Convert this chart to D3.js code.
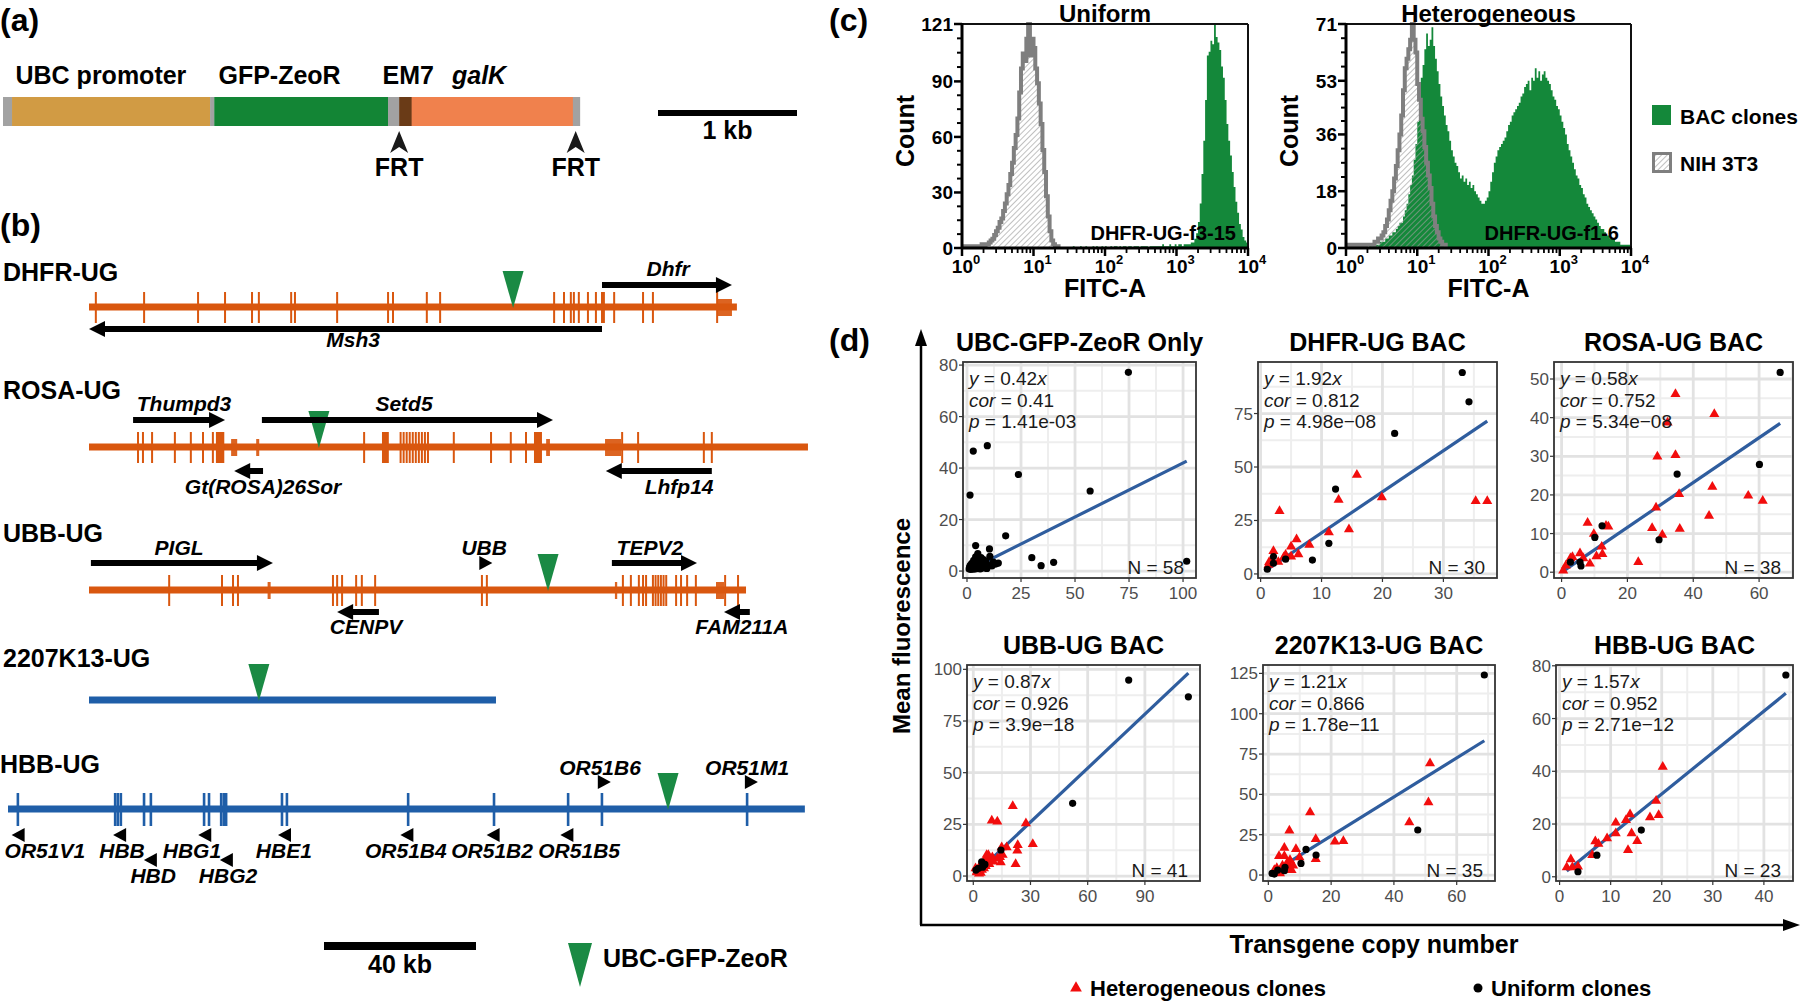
<!DOCTYPE html>
<html><head><meta charset="utf-8">
<script src="https://d3js.org/d3.v7.min.js"></script>
<style>html,body{margin:0;padding:0;background:#fff;}svg{display:block;}</style>
</head><body>
<script>
// ======================= DATA =======================
// (a) cassette (lengths in kb)
const cassetteParts=["FRT spacer","UBC promoter","spacer","GFP-ZeoR","FRT spacer","EM7","galK","FRT spacer"];
const cassetteKb=[0.065,1.425,0.03,1.25,0.08,0.09,1.16,0.05];
const cassetteLabels=["UBC promoter","GFP-ZeoR","EM7","galK"];
const cassetteLabelKb=[0.09,1.55,2.73,3.23];
const frtKb=[2.85,4.12];

// (b) BAC tracks (kb)
const trackNames=["DHFR-UG","ROSA-UG","UBB-UG","2207K13-UG","HBB-UG"];
const trackLengthKb=[170.5,189.2,172.9,107.1,209.7];
const trackInsertKb=[111.6,60.5,120.8,44.7,173.7];
const dhfrExons=[1.8,14.5,28.7,35.8,42.9,44.7,53.2,54.2,65.3,78.7,80,88.9,92.4,122.4,125,126.8,127.6,128.9,131.3,133.4,135,135.5,138.2,145.8,148.4,165.3];
const dhfrBlocks=[];
const dhfrUtr=[[165.3,169.2]];
const rosaExons=[12.9,14.2,16.6,22.6,26.8,30,32.6,72.4,82,82.8,83.6,84.4,85.2,86,86.8,87.6,88.4,89.2,96,105.8,111,115,140.3,144.5,161.8,163.9];
const rosaBlocks=[[33.4,35.6],[77.1,78.9],[117.1,119.2]];
const rosaUtr=[[37.4,39],[44,44.8],[120.3,121.3],[135.8,140]];
const ubbExons=[21.1,35,37.9,39.2,64.2,65.3,66.6,70.3,71.8,75.3,103.4,104.7,140.5,142.6,144.7,145.8,146.6,148.4,149.1,149.8,150.5,151.2,151.9,154.5,155.8,157.4,159.7,167.4,170.8];
const ubbBlocks=[];
const ubbUtr=[[47,47.8],[138.4,139],[165,167.1]];
const hbbExons=[2.6,28.2,28.9,29.7,35.8,37.6,51.6,52.9,56.1,56.8,57.4,72.1,73.4,105.3,127.9,147.4,156.3,194.5];
const geneNames=["Dhfr","Msh3","Thumpd3","Setd5","Gt(ROSA)26Sor","Lhfp14","PIGL","TEPV2","CENPV","FAM211A"];
const geneTrack=[0,0,1,1,1,1,2,2,2,2];
const geneFromKb=[135,135,11.6,45.5,45.8,163.9,0.5,137.6,76.3,173.9];
const geneToKb=[169.2,0,35.8,122.1,38.2,136,48.4,160,65.3,167.1];
const geneLabelKb=[152.4,69.5,25,82.9,45.8,155.3,23.7,147.6,72.9,171.8];
const smallGenes=["UBB","OR51V1","HBB","HBD","HBG1","HBG2","HBE1","OR51B4","OR51B2","OR51B5","OR51B6","OR51M1"];
const smallGeneTrack=[2,4,4,4,4,4,4,4,4,4,4,4];
const smallGeneKb=[104.3,2.8,29.5,37.6,51.9,57.6,72.9,105.1,127.8,147.2,156.8,195.5];
const smallGeneStrand=[1,-1,-1,-1,-1,-1,-1,-1,-1,-1,1,1];
const smallGeneLabelKb=[104,9.7,30,38.2,48.4,57.9,72.6,104.7,127.4,150.3,155.8,194.5];

// (c) flow histograms: counts per bin of log10(FITC-A), bin width 0.025
const histStep=0.025;
const uniformGrayStart=0;
const uniformGray=[1,0,1,1,0,1,1,0,1,1, 1,2,1,2,2,3,4,5,7,9, 11,14,16,20,24,29,34,40,46,54, 61,70,84,97,105,101,113,121,104,113, 108,97,89,78,67,53,41,28,17,9, 4,2,1,1,0];
const uniformGreenStart=1.5;
const uniformGreen=[0,0,1,0,0,0,1,0,0,1, 0,0,0,1,0,1,0,0,1,0, 1,0,0,1,0,1,1,0,1,0, 1,1,0,1,1,0,1,1,1,0, 1,1,1,1,0,1,1,1,1,1, 1,1,2,1,1,1,2,1,1,2, 1,2,2,1,2,2,2,
 2,3,3,5,8,14,24,40,58,80,104,106,112,110,121,114,111,107,98,92,80,67,58,50,41,33,25,19,13,10,6,4,3,2];
const hetGrayStart=0;
const hetGray=[0,1,0,0,1,0,1,0,0,1, 0,1,1,1,1,1,2,2,3,3, 4,5,7,9, 12,15,18,22,26,31,36,42,50,57, 60,63,66,71,66,62,52,47,41,37, 32,27,23,19,14,10,7,5,3,2, 1,1,0];
const hetGreenStart=0;
const hetGreen=[0,0,1,0,0,1,0,1,0,0, 1,1,0,1,1,1,
 1,1,1,2,2,2,3,3,4,4, 5,5,6,7,8,8,10,12,14,17, 20,23,28,33,
 40,48,54,58,63,68,64,66,70,64, 60,56,52,48,45,42,39,37,34,31,
 29,27,26,24,22,23,21,22,20,21, 19,20,18,17,16,15,14,14,15,16,
 18,21,24,27,29,31,32,33,34,35, 37,39,40,42,43,44,45,46,48,49,
 51,52,53,50,54,53,57,54,56,53, 55,56,54,53,52,50,48,47,45,44,
 42,40,38,36,33,31,29,27,25,23, 22,20,19,17,16,14,13,12,11,10,
 9,8,7,6,6,5,4,4,3,3, 3,2,2,2,1,1,1,1,1,1,0];
const uniformYTicks=[0,30,60,90,121];
const hetYTicks=[0,18,36,53,71];
const fitcDecades=[0,1,2,3,4];

// (d) scatter panels: [copy number, mean fluorescence]
const dTitles=["UBC-GFP-ZeoR Only","DHFR-UG BAC","ROSA-UG BAC","UBB-UG BAC","2207K13-UG BAC","HBB-UG BAC"];
const dSlopes=[0.42,1.92,0.58,0.87,1.21,1.57];
const dCor=["0.41","0.812","0.752","0.926","0.866","0.952"];
const dP=["1.41e-03","4.98e\u221208","5.34e\u221208","3.9e\u221218","1.78e\u221211","2.71e\u221212"];
const dN=[58,30,38,41,35,23];
const dXTicks=[[0,25,50,75,100],[0,10,20,30],[0,20,40,60],[0,30,60,90],[0,20,40,60],[0,10,20,30,40]];
const dYTicks=[[0,20,40,60,80],[0,25,50,75],[0,10,20,30,40,50],[0,25,50,75,100],[0,25,50,75,100,125],[0,20,40,60,80]];
const dXDomains=[[-1.85,106],[-0.43,38.8],[-2.3,70.3],[-3.3,118.9],[-1.7,72.2],[-0.7,45.7]];
const dYDomains=[[-2.7,81.2],[-1.9,99.1],[-1.5,54.4],[-2.4,102.1],[-3.7,130.2],[-1.6,80.3]];

const ubcUniform=[[74.7,77.2],[2.9,46.6],[9.4,48.7],[23.8,37.5],[1.4,29.5],[57,31.1],[17.9,13.7],[30,5.2],[34.3,2.1],[40.1,3.4],[101.7,3.8],[4,9.9],[10.4,8.6],[10.6,5.7],[14.5,3.1],[13.3,2.7],
[1.0,0.8],[1.2,1.5],[1.5,2.2],[1.8,0.6],[2.0,1.2],[2.2,3.0],[2.4,1.8],[2.6,0.9],[2.8,2.5],[3.0,1.4],
[3.1,4.2],[3.3,0.7],[3.5,2.0],[3.6,3.3],[3.8,1.1],[4.0,5.5],[4.1,2.7],[4.3,1.6],[4.5,0.9],[4.6,3.8],
[4.8,2.2],[5.0,6.8],[5.1,1.3],[5.3,4.6],[5.5,2.9],[5.7,1.8],[5.9,3.5],[6.1,0.8],[6.3,2.4],[6.5,5.2],
[6.8,1.5],[7.0,3.1],[7.3,2.0],[7.6,4.4],[7.9,1.2],[8.2,2.6],[8.5,1.9],[8.8,3.9],[9.2,1.0],[9.6,2.3],[11.5,2.0],[12.2,3.5]];
const ubcHet=[];
const dhfrUniform=[[33.1,94.2],[34.2,80.5],[22.0,65.7],[12.3,39.7],[11.2,14.3],[8.5,6.5],[4.1,6.9],[2.1,8.1],[2.1,5.0],[1.1,2.2]];
const dhfrHet=[[15.8,46.3],[3.1,29.4],[12.8,34.6],[19.9,35.8],[35.3,34.1],[37.2,34.1],[14.5,20.9],[11.2,19.5],[5.9,16.2],[5.0,12.8],[8.0,13.6],[2.1,10.7],[4.1,8.9],[6.2,9.2],[5.0,8.1],[1.4,5.5],[1.3,4.3],[1.9,6.5],[2.9,5.6],[3.8,7.8]];
const rosaUniform=[[66.4,51.7],[60.1,27.9],[35.1,25.4],[12.3,12.0],[10.1,9.0],[29.6,8.4],[2.7,2.6],[5.6,2.6],[5.9,1.6]];
const rosaHet=[[34.6,46.1],[46.4,40.9],[32.2,38.7],[29.1,29.9],[34.6,30.3],[45.8,22.1],[35.7,20.2],[56.7,19.8],[61.1,18.5],[28.7,16.7],[44.8,14.6],[7.9,12.8],[13.5,12.0],[14.2,11.8],[27.5,11.4],[35.9,11.2],[30.6,9.7],[9.8,9.9],[12.2,6.6],[12.4,4.7],[10.6,4.1],[8.6,2.2],[5.6,4.9],[6.6,3.6],[3.3,3.9],[2.7,3.6],[1.3,1.7],[0.5,0.4],[23.3,2.6]];
const ubbUniform=[[81.5,94.8],[112.8,86.7],[52.1,35.2],[14.5,12.6],[4.4,6.9],[2.6,3.7],[1.4,2.9],[6.1,5.6],[4.9,4.3]];
const ubbHet=[[20.7,33.9],[9.7,26.8],[12.6,26.3],[27.6,25.5],[31.2,15.5],[23.3,15.0],[23.1,12.3],[22.2,5.8],[17.5,13.9],[14.9,13.9],[15.4,10.2],[14.4,6.6],[12.6,8.5],[10.0,9.0],[7.9,10.2],[7.4,7.8],[8.4,5.8],[6.1,7.8],[5.3,5.8],[3.2,4.4],[2.1,2.5],[3.9,1.6],[2.8,2.9],[1.2,3.7],[5.6,3.7],[10.5,7.0],[14.0,9.2],[7.0,10.2],[3.0,1.2],[4.5,3.0],[6.5,4.8],[1.8,1.8]];
const k2207Uniform=[[68.8,124],[47.6,27.9],[12.0,15.9],[15.2,12.4],[10.4,7.2],[5.3,4.8],[5.1,2.7],[3.0,3.1],[1.2,1.0],[1.9,0.6]];
const k2207Het=[[51.5,69.2],[51.0,45.1],[44.9,32.7],[13.3,38.9],[6.7,27.5],[15.1,22.3],[21.2,20.7],[23.9,21.1],[5.1,16.9],[8.8,16.1],[3.4,11.8],[5.1,11.8],[9.9,11.0],[6.9,9.3],[15.1,9.9],[5.9,7.2],[7.4,3.1],[4.1,2.7],[2.7,4.3],[4.5,5.8],[6.4,6.8],[3.7,1.0],[1.9,3.1],[5.9,4.8],[7.9,5.8]];
const hbbUniform=[[44.3,76.5],[16.0,17.7],[7.3,8.2],[3.6,1.9]];
const hbbHet=[[20.2,41.7],[18.9,28.8],[19.4,23.4],[17.7,22.5],[13.8,23.7],[13.0,21.5],[11.0,20.5],[14.1,16.5],[11.0,16.5],[9.3,14.6],[15.2,13.5],[13.4,10.1],[7.0,13.4],[7.6,12.5],[6.4,8.2],[2.2,6.6],[1.4,3.6],[2.5,3.6],[3.6,3.9]];
const dUniform=[ubcUniform,dhfrUniform,rosaUniform,ubbUniform,k2207Uniform,hbbUniform];
const dHet=[ubcHet,dhfrHet,rosaHet,ubbHet,k2207Het,hbbHet];

// ======================= STYLE / LAYOUT =======================
const F='"Liberation Sans", Arial, Helvetica, sans-serif';
const cassetteColors=["#a2a2a2","#d19b44","#a2a2a2","#138535","#a2a2a2","#6a3b17","#f0814d","#a2a2a2"];
const ORANGE="#d9570f", BLUE="#1f5ea8", GREEN="#1a8a44", HGREEN="#14883a", GRAYH="#7f7f7f";
const W=1800,H=1001;
const svg=d3.select("body").append("svg").attr("width",W).attr("height",H);
const defs=svg.append("defs");
const pat=defs.append("pattern").attr("id","hatch").attr("patternUnits","userSpaceOnUse").attr("width",4).attr("height",4).attr("patternTransform","rotate(45)");
pat.append("line").attr("x1",0).attr("y1",0).attr("x2",0).attr("y2",4).attr("stroke","#9e9e9e").attr("stroke-width",1.3);

function T(g,x,y,s,o={}){
  const t=g.append("text").attr("x",x).attr("y",y).text(s).attr("font-family",F)
    .attr("font-size",o.size||24).attr("font-weight",o.w||"bold").attr("fill",o.fill||"#000");
  if(o.anchor) t.attr("text-anchor",o.anchor);
  if(o.it) t.attr("font-style","italic");
  if(o.rot) t.attr("transform",`rotate(${o.rot},${x},${y})`);
  return t;
}

// panel letters
T(svg,0,31,"(a)",{size:32});
T(svg,0,236,"(b)",{size:32});
T(svg,829,31,"(c)",{size:32});
T(svg,829,351,"(d)",{size:32});

// ======================= (a) =======================
(function(){
  const xa=d3.scaleLinear().domain([0,1]).range([3,142]);
  const starts=d3.cumsum([0].concat(cassetteKb.slice(0,-1)));
  svg.append("g").selectAll("rect").data(cassetteKb).join("rect")
    .attr("x",(d,i)=>xa(starts[i])).attr("y",97).attr("width",d=>xa(d)-xa(0)+0.3).attr("height",29)
    .attr("fill",(d,i)=>cassetteColors[i]);
  cassetteLabels.forEach((l,i)=>T(svg,xa(cassetteLabelKb[i]),84,l,{size:25,it:l==="galK"}));
  frtKb.forEach(k=>{
    const x=xa(k);
    svg.append("path").attr("d",`M${x},131 L${x+9},153 L${x},147 L${x-9},153 Z`).attr("fill","#1a1a1a");
    T(svg,x,176,"FRT",{size:25,anchor:"middle"});
  });
  const sb=d3.scaleLinear().domain([0,1]).range([658,797]);
  svg.append("rect").attr("x",sb(0)).attr("y",110).attr("width",sb(1)-sb(0)).attr("height",6).attr("fill","#000");
  T(svg,(sb(0)+sb(1))/2,139,"1 kb",{size:25,anchor:"middle"});
})();

// ======================= (b) =======================
(function(){
  const kb=d3.scaleLinear().domain([0,40]).range([0,152]);
  const trackX0=[89,89,89,89,8];
  const trackY=[307,447,590,700,809];
  const labelY=[281,399,542,667,773];
  const trackColor=[ORANGE,ORANGE,ORANGE,BLUE,BLUE];
  const exons=[dhfrExons,rosaExons,ubbExons,[],hbbExons];
  const blocks=[dhfrBlocks,rosaBlocks,ubbBlocks,[],[]];
  const utrs=[dhfrUtr,rosaUtr,ubbUtr,[],[]];
  const g=svg.append("g");
  trackNames.forEach((name,t)=>{
    const X=v=>trackX0[t]+kb(v), y=trackY[t], c=trackColor[t];
    T(g,t===4?0:3,labelY[t],name,{size:25});
    g.append("rect").attr("x",X(0)).attr("y",y-3.5).attr("width",kb(trackLengthKb[t])).attr("height",7).attr("fill",c);
    const hbb=t===4;
    exons[t].forEach(e=>{
      if(hbb) g.append("rect").attr("x",X(e)-1.3).attr("y",y-16).attr("width",2.6).attr("height",33).attr("fill",c);
      else g.append("rect").attr("x",X(e)-1).attr("y",y-15).attr("width",2).attr("height",31).attr("fill",c);
    });
    blocks[t].forEach(b=>g.append("rect").attr("x",X(b[0])).attr("y",y-15).attr("width",kb(b[1]-b[0])).attr("height",31).attr("fill",c));
    utrs[t].forEach(b=>g.append("rect").attr("x",X(b[0])).attr("y",y-8).attr("width",Math.max(2,kb(b[1]-b[0]))).attr("height",17).attr("fill",c).attr("opacity",0.92));
    const ix=X(trackInsertKb[t]);
    g.append("path").attr("d",`M${ix-10.5},${y-36} L${ix+10.5},${y-36} L${ix},${y+1} Z`).attr("fill",GREEN);
  });
  const arrowDy=[-22,22,-27,-27,24,24,-27,-27,22,22];
  const labelDy=[-31,40,-36,-36,47,47,-35,-35,44,44];
  geneNames.forEach((n,i)=>{
    const t=geneTrack[i], y=trackY[t]+arrowDy[i];
    const x1=trackX0[t]+kb(geneFromKb[i]), x2=trackX0[t]+kb(geneToKb[i]);
    const dir=x2>x1?1:-1;
    g.append("line").attr("x1",x1).attr("x2",x2-dir*14).attr("y1",y).attr("y2",y).attr("stroke","#000").attr("stroke-width",6);
    g.append("path").attr("d",`M${x2},${y} L${x2-dir*16},${y-8} L${x2-dir*16},${y+8} Z`).attr("fill","#000");
    T(g,trackX0[t]+kb(geneLabelKb[i]),trackY[t]+labelDy[i],n,{size:21,it:true,anchor:"middle"});
  });
  const markRow=[0,0,0,1,0,1,0,0,0,0,0,0];
  smallGenes.forEach((n,i)=>{
    const t=smallGeneTrack[i], x=trackX0[t]+kb(smallGeneKb[i]);
    let cy, ly;
    if(smallGeneStrand[i]>0){ cy=trackY[t]-27; ly=trackY[t]-(t===2?35:34); }
    else { cy=trackY[t]+26+markRow[i]*25; ly=trackY[t]+49+markRow[i]*25; }
    const d=smallGeneStrand[i]>0?`M${x+7},${cy} L${x-6},${cy-7} L${x-6},${cy+7} Z`:`M${x-7},${cy} L${x+6},${cy-7} L${x+6},${cy+7} Z`;
    g.append("path").attr("d",d).attr("fill","#000");
    T(g,trackX0[t]+kb(smallGeneLabelKb[i]),ly,n,{size:21,it:true,anchor:"middle"});
  });
  g.append("rect").attr("x",324).attr("y",942).attr("width",kb(40)).attr("height",8).attr("fill","#000");
  T(g,324+kb(20),973,"40 kb",{size:25,anchor:"middle"});
  g.append("path").attr("d","M568,943 L592,943 L580,987 Z").attr("fill",GREEN);
  T(g,603,967,"UBC-GFP-ZeoR",{size:25});
})();

// ======================= (c) =======================
function histo(box,yTicks,title,sample,series){
  const [x0,y0,x1,y1]=box;
  const x=d3.scaleLog().domain([1,1e4]).range([x0,x1]);
  const y=d3.scaleLinear().domain([0,yTicks[yTicks.length-1]]).range([y1,y0]);
  const g=svg.append("g");
  const cid="clip"+x0;
  defs.append("clipPath").attr("id",cid).append("rect").attr("x",x0).attr("y",y0-2).attr("width",x1-x0).attr("height",y1-y0+2);
  const pts=(arr,start)=>{const p=arr.map((c,i)=>({l:start+i*histStep,c})); p.push({l:start+arr.length*histStep,c:0}); return p;};
  const area=d3.area().x(d=>x(Math.pow(10,d.l))).y0(y1).y1(d=>y(d.c)).curve(d3.curveStepAfter);
  const line=d3.line().x(d=>x(Math.pow(10,d.l))).y(d=>y(d.c)).curve(d3.curveStepAfter);
  const cg=g.append("g").attr("clip-path",`url(#${cid})`);
  cg.append("path").datum(pts(series.green,series.greenStart)).attr("d",area).attr("fill",HGREEN);
  const gp=pts(series.gray,series.grayStart);
  cg.append("path").datum(gp).attr("d",area).attr("fill","url(#hatch)");
  cg.append("path").datum(gp).attr("d",line).attr("fill","none").attr("stroke",GRAYH).attr("stroke-width",4);
  g.append("line").attr("x1",x0).attr("x2",x1).attr("y1",y0).attr("y2",y0).attr("stroke","#111").attr("stroke-width",2);
  g.append("line").attr("x1",x1).attr("x2",x1).attr("y1",y0).attr("y2",y1).attr("stroke","#111").attr("stroke-width",2);
  g.append("line").attr("x1",x0).attr("x2",x0).attr("y1",y0-1).attr("y2",y1+1).attr("stroke","#000").attr("stroke-width",3);
  g.append("line").attr("x1",x0-1).attr("x2",x1+1).attr("y1",y1).attr("y2",y1).attr("stroke","#000").attr("stroke-width",3);
  yTicks.forEach((v,i)=>{
    g.append("line").attr("x1",x0-8).attr("x2",x0).attr("y1",y(v)).attr("y2",y(v)).attr("stroke","#000").attr("stroke-width",2.5);
    T(g,x0-9,y(v)+7,String(v),{size:19,anchor:"end"});
    if(i<yTicks.length-1){for(let k=1;k<4;k++){const vv=v+(yTicks[i+1]-v)*k/4;
      g.append("line").attr("x1",x0-5).attr("x2",x0).attr("y1",y(vv)).attr("y2",y(vv)).attr("stroke","#000").attr("stroke-width",2);}}
  });
  fitcDecades.forEach((d,i)=>{
    const v=Math.pow(10,d);
    g.append("line").attr("x1",x(v)).attr("x2",x(v)).attr("y1",y1).attr("y2",y1+8).attr("stroke","#000").attr("stroke-width",2.5);
    const t=T(g,x(v)+4,y1+25,"",{size:19,anchor:"middle"});
    t.append("tspan").text("10");
    t.append("tspan").text(String(d)).attr("font-size",13).attr("dy",-9);
    if(i<fitcDecades.length-1) for(let m=2;m<10;m++){
      g.append("line").attr("x1",x(m*v)).attr("x2",x(m*v)).attr("y1",y1).attr("y2",y1+5).attr("stroke","#000").attr("stroke-width",1.8);}
  });
  T(g,(x0+x1)/2,22,title,{size:24,anchor:"middle"});
  T(g,(x0+x1)/2,297,"FITC-A",{size:25,anchor:"middle"});
  T(g,x0-48,(y0+y1)/2-5,"Count",{size:25,anchor:"middle",rot:-90});
  T(g,x1-12,240,sample,{size:20,anchor:"end"});
}
histo([962,24,1248,248],uniformYTicks,"Uniform","DHFR-UG-f3-15",{gray:uniformGray,grayStart:uniformGrayStart,green:uniformGreen,greenStart:uniformGreenStart});
histo([1346,24,1631,248],hetYTicks,"Heterogeneous","DHFR-UG-f1-6",{gray:hetGray,grayStart:hetGrayStart,green:hetGreen,greenStart:hetGreenStart});
svg.append("rect").attr("x",1652).attr("y",105).attr("width",19).attr("height",20).attr("fill",HGREEN);
T(svg,1680,124,"BAC clones",{size:21});
svg.append("rect").attr("x",1653.5).attr("y",153.5).attr("width",17).attr("height",18).attr("fill","url(#hatch)").attr("stroke",GRAYH).attr("stroke-width",3);
T(svg,1680,171,"NIH 3T3",{size:21});

// ======================= (d) =======================
const dBoxes=[[963,362,1196,578],[1258,362,1497,578],[1554,362,1793,578],[967,665,1200,881],[1263,665,1495,881],[1556,665,1793,881]];
dTitles.forEach((title,i)=>{
  const [x0,y0,x1,y1]=dBoxes[i];
  const x=d3.scaleLinear().domain(dXDomains[i]).range([x0,x1]);
  const y=d3.scaleLinear().domain(dYDomains[i]).range([y1,y0]);
  const g=svg.append("g");
  const cid="dclip"+i;
  defs.append("clipPath").attr("id",cid).append("rect").attr("x",x0).attr("y",y0).attr("width",x1-x0).attr("height",y1-y0);
  const cg=g.append("g").attr("clip-path",`url(#${cid})`);
  const xt=dXTicks[i], yt=dYTicks[i];
  const mids=(t,dom)=>{const s=t[1]-t[0]; const r=[]; for(let v=t[0]-s/2; v<=dom[1]; v+=s){ if(v>=dom[0]) r.push(v);} return r;};
  mids(xt,dXDomains[i]).forEach(v=>cg.append("line").attr("x1",x(v)).attr("x2",x(v)).attr("y1",y0).attr("y2",y1).attr("stroke","#eeeeee").attr("stroke-width",2));
  mids(yt,dYDomains[i]).forEach(v=>cg.append("line").attr("y1",y(v)).attr("y2",y(v)).attr("x1",x0).attr("x2",x1).attr("stroke","#eeeeee").attr("stroke-width",2));
  xt.forEach(v=>cg.append("line").attr("x1",x(v)).attr("x2",x(v)).attr("y1",y0).attr("y2",y1).attr("stroke","#e2e2e2").attr("stroke-width",2.8));
  yt.forEach(v=>cg.append("line").attr("y1",y(v)).attr("y2",y(v)).attr("x1",x0).attr("x2",x1).attr("stroke","#e2e2e2").attr("stroke-width",2.8));
  const all=dUniform[i].concat(dHet[i]);
  const xr=d3.extent(all,d=>d[0]);
  cg.append("line").attr("x1",x(xr[0])).attr("y1",y(dSlopes[i]*xr[0])).attr("x2",x(xr[1])).attr("y2",y(dSlopes[i]*xr[1]))
    .attr("stroke","#2f5d9e").attr("stroke-width",3.2);
  const tri=d3.symbol(d3.symbolTriangle).size(44);
  cg.selectAll("path.h").data(dHet[i]).join("path").attr("class","h").attr("d",tri)
    .attr("transform",d=>`translate(${x(d[0])},${y(d[1])})`).attr("fill","#f20d0d");
  cg.selectAll("circle").data(dUniform[i]).join("circle").attr("cx",d=>x(d[0])).attr("cy",d=>y(d[1])).attr("r",3.6).attr("fill","#000");
  g.append("rect").attr("x",x0).attr("y",y0).attr("width",x1-x0).attr("height",y1-y0).attr("fill","none").attr("stroke","#333").attr("stroke-width",1.8);
  xt.forEach(v=>{g.append("line").attr("x1",x(v)).attr("x2",x(v)).attr("y1",y1).attr("y2",y1+4).attr("stroke","#333").attr("stroke-width",1.2);
    T(g,x(v),y1+21,String(v),{size:17,w:"normal",fill:"#4d4d4d",anchor:"middle"});});
  yt.forEach(v=>{g.append("line").attr("x1",x0-4).attr("x2",x0).attr("y1",y(v)).attr("y2",y(v)).attr("stroke","#333").attr("stroke-width",1.2);
    T(g,x0-5,y(v)+6,String(v),{size:17,w:"normal",fill:"#4d4d4d",anchor:"end"});});
  T(g,(x0+x1)/2,y0-11,title,{size:25,anchor:"middle"});
  const st=[[["y",1],[" = "+dSlopes[i].toFixed(2),0],["x",1]],[["cor",1],[" = "+dCor[i],0]],[["p",1],[" = "+dP[i],0]]];
  st.forEach((line,k)=>{
    const t=T(g,x0+6,y0+23+k*21.5,"",{size:19,w:"normal",fill:"#1a1a1a"});
    line.forEach(([s,it])=>{const ts=t.append("tspan").text(s); if(it) ts.attr("font-style","italic");});
  });
  T(g,x1-12,y1-4,"N = "+dN[i],{size:19,w:"normal",fill:"#1a1a1a",anchor:"end"});
});
svg.append("line").attr("x1",921).attr("y1",925).attr("x2",921).attr("y2",342).attr("stroke","#000").attr("stroke-width",2.5);
svg.append("path").attr("d","M921,329 L927,346 L915,346 Z").attr("fill","#000");
svg.append("line").attr("x1",920).attr("y1",925).attr("x2",1786).attr("y2",925).attr("stroke","#000").attr("stroke-width",2.5);
svg.append("path").attr("d","M1800,925 L1783,919 L1783,931 Z").attr("fill","#000");
T(svg,910,626,"Mean fluorescence",{size:24,anchor:"middle",rot:-90});
T(svg,1374,953,"Transgene copy number",{size:25,anchor:"middle"});
svg.append("path").attr("d",d3.symbol(d3.symbolTriangle).size(60)()).attr("transform","translate(1076,988)").attr("fill","#f20d0d");
T(svg,1090,996,"Heterogeneous clones",{size:22});
svg.append("circle").attr("cx",1478).attr("cy",988).attr("r",4.5).attr("fill","#000");
T(svg,1491,996,"Uniform clones",{size:22});
</script>
</body></html>
